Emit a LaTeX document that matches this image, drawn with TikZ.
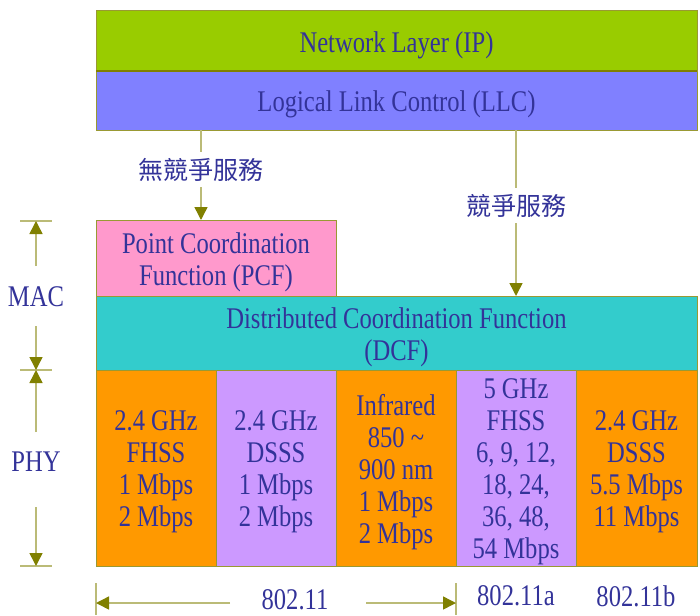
\documentclass[tikz,border=0pt]{standalone}
\usepackage{fontspec}
\setmainfont{Liberation Serif}[FakeStretch=0.82]
\newfontfamily\cjkfont{Noto Sans CJK TC}
\usetikzlibrary{arrows.meta}

\definecolor{ink}{RGB}{51,51,153}
\definecolor{edge}{RGB}{153,153,51}
\definecolor{stem}{RGB}{187,187,119}
\definecolor{tip}{RGB}{128,128,0}
\definecolor{netgreen}{RGB}{153,204,0}
\definecolor{llcblue}{RGB}{128,128,255}
\definecolor{pcfpink}{RGB}{255,153,204}
\definecolor{dcfteal}{RGB}{51,204,204}
\definecolor{phyorange}{RGB}{255,153,0}
\definecolor{phylilac}{RGB}{204,153,255}

\begin{document}
\begin{tikzpicture}[x=1pt,y=-1pt,
  txt/.style={text=ink, font=\fontsize{30}{32}\selectfont, align=center, inner sep=0pt},
  inbox/.style={txt, yshift=-4pt},
  box/.style={draw=edge, line width=1pt, inner sep=0pt, outer sep=0pt,
              anchor=north west},
  phy/.style={box, minimum width=120pt, minimum height=196pt},
  cjk/.style={text=ink, font=\cjkfont\fontsize{25}{28}\selectfont,
              fill=white, inner xsep=2pt, inner ysep=6pt},
  flow/.style={draw=stem, line width=1.5pt,
               -{Triangle[length=13pt,width=13pt,color=tip,fill=tip]}},
  tick/.style={draw=stem, line width=1.5pt}]

\useasboundingbox (0,0) rectangle (700,615);

% protocol stack
\node[box, fill=netgreen, minimum width=601pt, minimum height=60pt] (net) at (96,11) {};
\node[box, fill=llcblue, minimum width=601pt, minimum height=59pt] (llc) at (96,71) {};
\draw[draw=tip, line width=1.5pt] (net.south west) -- (net.south east);
\node[box, fill=pcfpink, minimum width=240pt, minimum height=76pt] (pcf) at (96,220) {};
\node[box, fill=dcfteal, minimum width=601pt, minimum height=74pt] (dcf) at (96,296) {};
\node[inbox] (netT) at (net) {Network Layer (IP)};
\node[inbox] (llcT) at (llc) {Logical Link Control (LLC)};
\node[inbox] (pcfT) at (pcf) {Point Coordination\\Function (PCF)};
\node[inbox] (dcfT) at (dcf) {Distributed Coordination Function\\(DCF)};

% physical layer columns
\node[phy, fill=phyorange] (p1) at (96,370)  {};
\node[phy, fill=phylilac]  (p2) at (216,370) {};
\node[phy, fill=phyorange] (p3) at (336,370) {};
\node[phy, fill=phylilac]  (p4) at (456,370) {};
\node[phy, fill=phyorange, minimum width=121pt] (p5) at (576,370) {};
\node[inbox] (p1T) at (p1) {2.4 GHz\\FHSS\\1 Mbps\\2 Mbps};
\node[inbox] (p2T) at (p2) {2.4 GHz\\DSSS\\1 Mbps\\2 Mbps};
\node[inbox] (p3T) at (p3) {Infrared\\850 \textasciitilde\\900 nm\\1 Mbps\\2 Mbps};
\node[inbox] (p4T) at (p4) {5 GHz\\FHSS\\6, 9, 12,\\18, 24,\\36, 48,\\54 Mbps};
\node[inbox] (p5T) at (p5) {2.4 GHz\\DSSS\\5.5 Mbps\\11 Mbps};

% service paths from LLC
\coordinate (s1) at (201,130);
\coordinate (s2) at (516,130);
\draw[flow] (s1) -- node[cjk, pos=0.44] {無競爭服務} (s1 |- pcf.north);
\draw[flow] (s2) -- node[cjk, pos=0.455] {競爭服務} (s2 |- dcf.north);

% MAC / PHY extent marks
\coordinate (m0) at (36,221);
\coordinate (m1) at (36,370);
\coordinate (m2) at (36,566);
\draw[tick] (20,221) -- (52,221);
\draw[tick] (20,370) -- (52,370);
\draw[tick] (20,566) -- (52,566);
\node[txt] (mac) at (36,297) {MAC};
\node[txt] (phyl) at (36,462) {PHY};
\coordinate (mu) at (36,266);
\coordinate (md) at (36,326);
\coordinate (pu) at (36,432);
\coordinate (pd) at (36,507);
\draw[flow] (mu) -- (m0);
\draw[flow] (md) -- (m1);
\draw[flow] (pu) -- (m1);
\draw[flow] (pd) -- (m2);

% standards along the bottom
\draw[tick] (96,583) -- (96,615);
\draw[tick] (456,583) -- (456,615);
\coordinate (bl) at (96,603);
\coordinate (br) at (456,603);
\coordinate (bla) at (230,603);
\coordinate (bra) at (366,603);
\draw[flow] (bla) -- (bl);
\draw[flow] (bra) -- (br);
\node[txt] (std0) at (295,600) {802.11};
\node[txt] (std1) at (516,596) {802.11a};
\node[txt] (std2) at (636,596) {802.11b};
\end{tikzpicture}
\end{document}
